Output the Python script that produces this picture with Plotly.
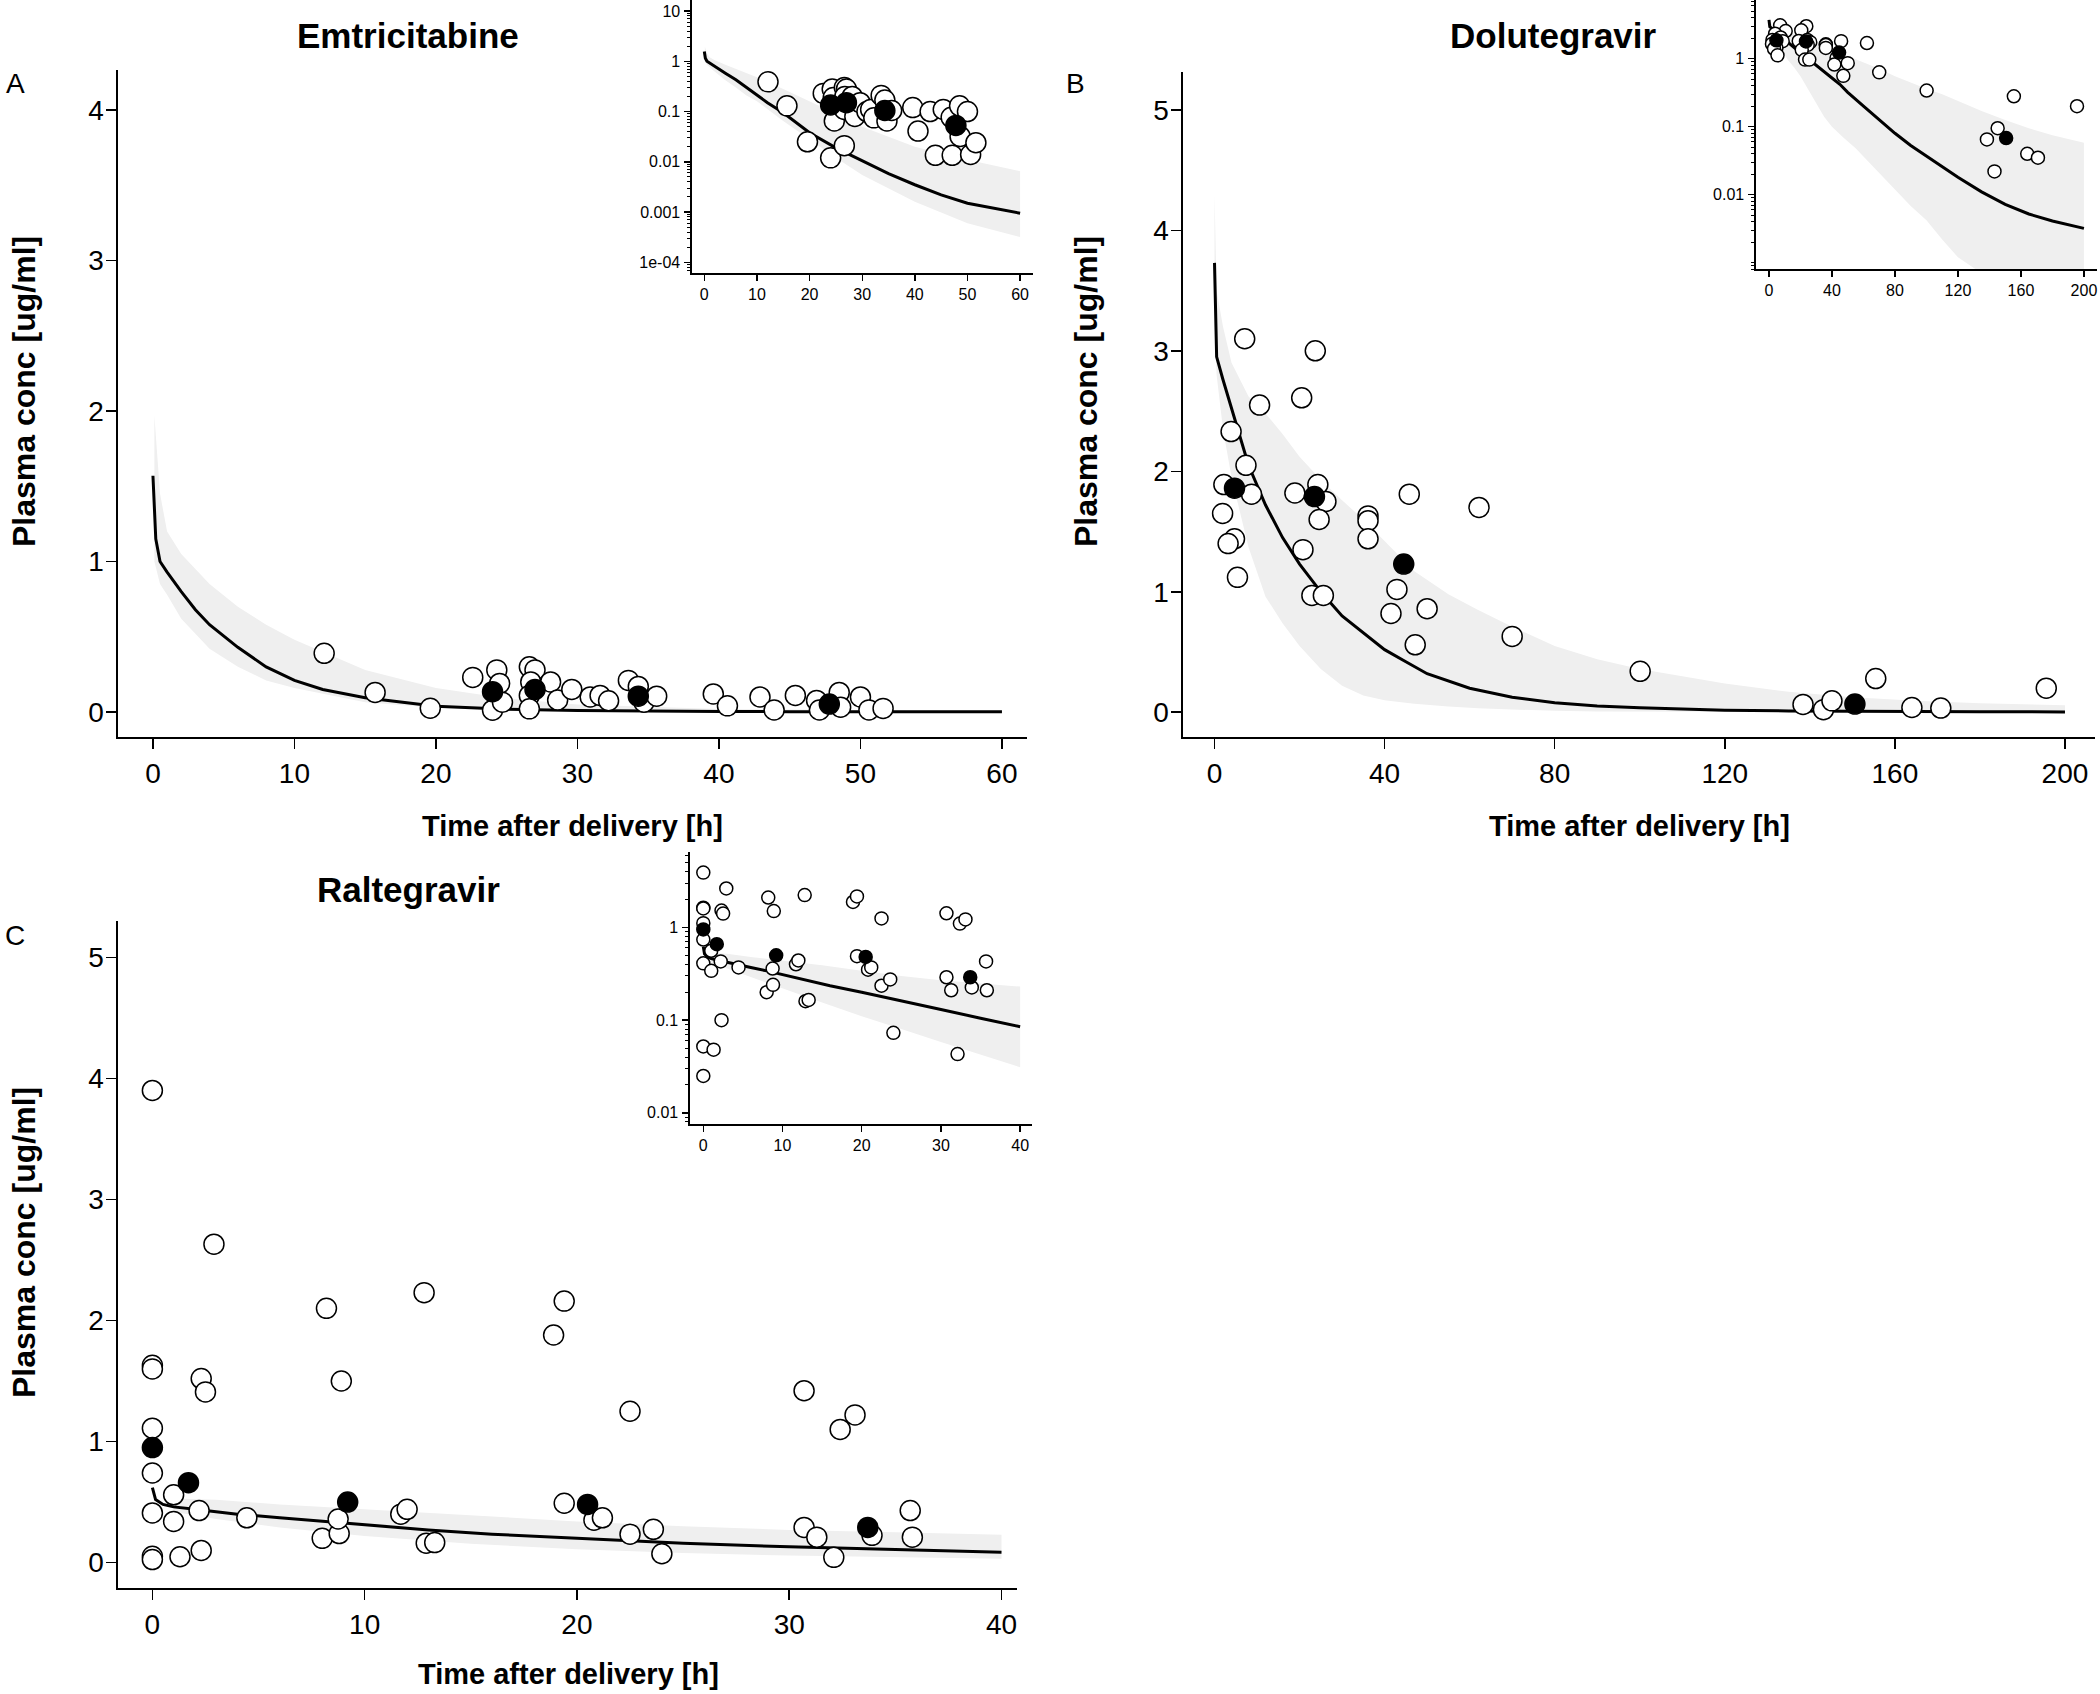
import plotly.graph_objects as go

W, H = 2100, 1694

# ---------------- Data ----------------
# Emtricitabine
emt_open_t = [12.1, 15.7, 19.6, 22.6, 24.3, 24.5, 24.0, 24.7, 26.6, 27.0, 26.7, 26.6, 26.6, 28.1, 28.6,
              29.6, 30.9, 31.6, 32.2, 33.6, 34.3, 34.7, 35.6, 39.6, 40.6, 42.9, 43.9, 45.4, 46.9, 47.1,
              48.5, 48.6, 50.0, 50.6, 51.6]
emt_open_c = [0.39, 0.13, 0.025, 0.23, 0.28, 0.19, 0.012, 0.065, 0.30, 0.28, 0.20, 0.11, 0.021, 0.20, 0.08,
              0.15, 0.10, 0.11, 0.075, 0.21, 0.17, 0.065, 0.105, 0.12, 0.041, 0.10, 0.0135, 0.11, 0.077, 0.0135,
              0.13, 0.032, 0.10, 0.014, 0.024]
emt_fill_t = [24.0, 27.0, 34.3, 47.8]
emt_fill_c = [0.135, 0.15, 0.105, 0.053]
emt_curve_t = [0, 0.2, 0.5, 1, 2, 3, 4, 6, 8, 10, 12, 15, 20, 25, 30, 35, 40, 45, 50, 55, 60]
emt_curve_c = [1.57, 1.15, 1.0, 0.93, 0.80, 0.68, 0.58, 0.43, 0.30, 0.21, 0.15, 0.095, 0.038, 0.019, 0.0105,
               0.0058, 0.0035, 0.0022, 0.0015, 0.0012, 0.00095]
emt_band_t = [0.1, 0.5, 1, 2, 4, 6, 8, 10, 15, 20, 25, 30, 40, 50, 60]
emt_band_hi = [1.97, 1.45, 1.2, 1.05, 0.85, 0.7, 0.58, 0.48, 0.28, 0.16, 0.09, 0.05, 0.02, 0.011, 0.0065]
emt_band_lo = [1.0, 0.85, 0.78, 0.62, 0.42, 0.30, 0.21, 0.16, 0.065, 0.028, 0.012, 0.0055, 0.0016, 0.0006, 0.00032]

# Dolutegravir
dtg_open_t = [7.1, 23.7, 10.6, 20.5, 3.9, 7.4, 2.2, 8.7, 1.9, 4.7, 3.2, 5.4, 18.9, 24.3, 26.2, 24.6, 20.8,
              22.9, 25.6, 36.1, 36.1, 36.1, 45.8, 42.9, 41.5, 50.0, 47.2, 62.2, 70.0, 100.1, 138.4, 143.2,
              145.2, 155.5, 164.0, 170.8, 195.6]
dtg_open_c = [3.10, 3.00, 2.55, 2.61, 2.33, 2.05, 1.89, 1.81, 1.65, 1.44, 1.40, 1.12, 1.82, 1.89, 1.75, 1.60, 1.35,
              0.97, 0.97, 1.63, 1.59, 1.44, 1.81, 1.02, 0.82, 0.86, 0.56, 1.70, 0.63, 0.34, 0.065, 0.022,
              0.095, 0.28, 0.04, 0.035, 0.20]
dtg_fill_t = [4.7, 23.5, 44.5, 150.6]
dtg_fill_c = [1.86, 1.79, 1.23, 0.068]
dtg_curve_t = [0, 0.5, 2, 5, 8, 12, 16, 20, 25, 30, 35, 40, 45, 50, 60, 70, 80, 90, 100, 110, 120, 135, 150,
               165, 180, 200]
dtg_curve_c = [3.73, 2.95, 2.76, 2.4, 2.05, 1.72, 1.45, 1.23, 1.0, 0.8, 0.66, 0.52, 0.42, 0.32, 0.2, 0.125, 0.08,
               0.053, 0.037, 0.026, 0.018, 0.011, 0.0072, 0.0052, 0.0041, 0.0032]
dtg_band_t = [0, 0.5, 2, 4, 8, 12, 16, 20, 25, 30, 35, 40, 47, 55, 62, 70, 80, 90, 100, 110, 120, 135, 150,
              165, 180, 200]
dtg_band_hi = [4.3, 3.5, 3.2, 2.9, 2.62, 2.48, 2.31, 2.12, 1.93, 1.76, 1.6, 1.42, 1.17, 0.98, 0.85, 0.71, 0.55,
               0.44, 0.36, 0.3, 0.24, 0.17, 0.125, 0.095, 0.075, 0.058]
dtg_band_lo = [3.2, 2.8, 2.35, 1.95, 1.37, 0.96, 0.74, 0.55, 0.36, 0.22, 0.14, 0.1, 0.07, 0.048, 0.033, 0.021,
               0.012, 0.0068, 0.0042, 0.0022, 0.0012, 0.0007, 0.0005, 0.0004, 0.0003, 0.00025]

# Raltegravir
ral_open_t = [0, 0, 0, 0, 0, 0, 0, 0, 1.0, 1.0, 1.3, 2.3, 2.5, 2.2, 2.3, 2.9, 4.45, 8.2, 8.9, 8.0, 8.8, 8.75,
              11.7, 12.0, 12.8, 12.9, 13.3, 18.9, 19.4, 19.4, 20.8, 21.2, 22.5, 22.5, 23.6, 24.0, 30.7, 30.7,
              31.3, 32.1, 32.4, 33.1, 33.9, 35.7, 35.8]
ral_open_c = [3.90, 1.63, 1.60, 1.11, 0.74, 0.41, 0.052, 0.025, 0.56, 0.34, 0.048, 1.52, 1.41, 0.43, 0.10, 2.63,
              0.37, 2.10, 1.50, 0.20, 0.24, 0.36, 0.40, 0.44, 2.23, 0.16, 0.165, 1.88, 2.16, 0.49, 0.35, 0.37,
              1.25, 0.235, 0.275, 0.073, 1.42, 0.29, 0.21, 0.043, 1.10, 1.22, 0.225, 0.43, 0.21]
ral_fill_t = [0, 1.7, 9.2, 20.5, 33.7]
ral_fill_c = [0.95, 0.66, 0.50, 0.48, 0.29]
ral_curve_t = [0, 0.15, 0.5, 1, 2, 4, 6, 8, 10, 13, 16, 20, 25, 30, 35, 40]
ral_curve_c = [0.62, 0.52, 0.48, 0.46, 0.44, 0.40, 0.37, 0.34, 0.31, 0.27, 0.235, 0.20, 0.16, 0.13, 0.105, 0.085]
ral_band_t = [1, 3, 6, 10, 15, 20, 25, 30, 35, 40]
ral_band_hi = [0.53, 0.52, 0.48, 0.44, 0.39, 0.34, 0.30, 0.27, 0.25, 0.23]
ral_band_lo = [0.42, 0.36, 0.29, 0.22, 0.155, 0.11, 0.08, 0.058, 0.042, 0.031]

titles = ["Emtricitabine", "Dolutegravir", "Raltegravir"]
panel_letters = ["A", "B", "C"]
x_title = "Time after delivery [h]"
y_title = "Plasma conc [ug/ml]"

# ---------------- Styling ----------------
FONT = "Liberation Sans, Arial, sans-serif"
BAND = "#EFEFEF"

fig = go.Figure()


def px_dom_x(a, b):
    return [a / W, b / W]


def px_dom_y(top, bottom):
    return [1 - bottom / H, 1 - top / H]


def add_panel(xa, ya, bt, bhi, blo, ct, cc, ot, oc, ft, fc, msize, lw=3):
    fig.add_trace(go.Scatter(x=list(bt) + list(bt)[::-1], y=list(bhi) + list(blo)[::-1],
                             fill="toself", fillcolor=BAND, line=dict(width=0), mode="lines",
                             hoverinfo="skip", showlegend=False, xaxis=xa, yaxis=ya))
    fig.add_trace(go.Scatter(x=ct, y=cc, mode="lines", line=dict(color="black", width=lw),
                             showlegend=False, xaxis=xa, yaxis=ya))
    fig.add_trace(go.Scatter(x=ot, y=oc, mode="markers",
                             marker=dict(size=msize, color="white", line=dict(color="black", width=1.5)),
                             showlegend=False, xaxis=xa, yaxis=ya))
    fig.add_trace(go.Scatter(x=ft, y=fc, mode="markers",
                             marker=dict(size=msize, color="black", line=dict(color="black", width=1.5)),
                             showlegend=False, xaxis=xa, yaxis=ya))


# A main / inset
add_panel("x", "y", emt_band_t, emt_band_hi, emt_band_lo, emt_curve_t, emt_curve_c,
          emt_open_t, emt_open_c, emt_fill_t, emt_fill_c, 20)
add_panel("x2", "y2", emt_band_t, emt_band_hi, emt_band_lo, emt_curve_t, emt_curve_c,
          emt_open_t, emt_open_c, emt_fill_t, emt_fill_c, 20)
# B main / inset
add_panel("x3", "y3", dtg_band_t, dtg_band_hi, dtg_band_lo, dtg_curve_t, dtg_curve_c,
          dtg_open_t, dtg_open_c, dtg_fill_t, dtg_fill_c, 20)
add_panel("x4", "y4", dtg_band_t, dtg_band_hi, dtg_band_lo, dtg_curve_t, dtg_curve_c,
          dtg_open_t, dtg_open_c, dtg_fill_t, dtg_fill_c, 13)
# C main / inset
add_panel("x5", "y5", ral_band_t, ral_band_hi, ral_band_lo, ral_curve_t, ral_curve_c,
          ral_open_t, ral_open_c, ral_fill_t, ral_fill_c, 20)
add_panel("x6", "y6", ral_band_t, ral_band_hi, ral_band_lo, ral_curve_t, ral_curve_c,
          ral_open_t, ral_open_c, ral_fill_t, ral_fill_c, 13)


def main_axis(dom, rng, tickvals, standoff, anchor):
    return dict(domain=dom, range=rng, tickmode="array", tickvals=tickvals, anchor=anchor,
                showline=True, linecolor="black", linewidth=1.6, mirror=False, automargin=False,
                ticks="outside", ticklen=10, tickwidth=1.6, tickcolor="black",
                showgrid=False, zeroline=False, tickfont=dict(family=FONT, size=28, color="black"),
                ticklabelstandoff=standoff, fixedrange=True)


def inset_x(dom, rng, tickvals, anchor):
    return dict(domain=dom, range=rng, tickmode="array", tickvals=tickvals, anchor=anchor,
                showline=True, linecolor="black", linewidth=1.6, ticks="outside", ticklen=6,
                tickwidth=1.4, tickcolor="black", showgrid=False, zeroline=False, automargin=False,
                tickfont=dict(family=FONT, size=16, color="black"), ticklabelstandoff=0)


def inset_y(dom, rng, tickvals, ticktext, anchor):
    return dict(domain=dom, range=rng, type="log", tickmode="array", tickvals=tickvals,
                ticktext=ticktext, anchor=anchor, automargin=False,
                showline=True, linecolor="black", linewidth=1.6, ticks="outside", ticklen=6,
                tickwidth=1.4, tickcolor="black", showgrid=False, zeroline=False,
                tickfont=dict(family=FONT, size=16, color="black"), ticklabelstandoff=1,
                minor=dict(ticks="outside", ticklen=3, tickwidth=1, tickcolor="black",
                           dtick="D1", showgrid=False))


layout = dict(
    template="none",
    width=W, height=H, margin=dict(l=0, r=0, t=0, b=0, autoexpand=False),
    paper_bgcolor="white", plot_bgcolor="rgba(0,0,0,0)", showlegend=False,
    # A main
    xaxis=main_axis(px_dom_x(118, 1027), [-2.47, 61.77], [0, 10, 20, 30, 40, 50, 60], 1, "y"),
    yaxis=main_axis(px_dom_y(70, 737), [-0.166, 4.266], [0, 1, 2, 3, 4], -3, "x"),
    # A inset
    xaxis2=inset_x(px_dom_x(692, 1033), [-2.34, 62.45], [0, 10, 20, 30, 40, 50, 60], "y2"),
    yaxis2=inset_y(px_dom_y(0, 273.4), [-4.22, 1.22], [10, 1, 0.1, 0.01, 0.001, 0.0001],
                   ["10", "1", "0.1", "0.01", "0.001", "1e-04"], "x2"),
    # B main
    xaxis3=main_axis(px_dom_x(1183, 2095), [-7.41, 207.06], [0, 40, 80, 120, 160, 200], 1, "y3"),
    yaxis3=main_axis(px_dom_y(72, 737), [-0.205, 5.314], [0, 1, 2, 3, 4, 5], -3, "x3"),
    # B inset
    xaxis4=inset_x(px_dom_x(1756, 2097), [-8.25, 208.3], [0, 40, 80, 120, 160, 200], "y4"),
    yaxis4=inset_y(px_dom_y(0, 269.3), [-3.097, 0.863], [1, 0.1, 0.01], ["1", "0.1", "0.01"], "x4"),
    # C main
    xaxis5=main_axis(px_dom_x(118, 1017), [-1.62, 40.73], [0, 10, 20, 30, 40], 1, "y5"),
    yaxis5=main_axis(px_dom_y(921, 1588), [-0.21, 5.30], [0, 1, 2, 3, 4, 5], -3, "x5"),
    # C inset
    xaxis6=inset_x(px_dom_x(690, 1032), [-1.68, 41.5], [0, 10, 20, 30, 40], "y6"),
    yaxis6=inset_y(px_dom_y(852, 1124), [-2.12, 0.813], [1, 0.1, 0.01], ["1", "0.1", "0.01"], "x6"),
)
fig.update_layout(**layout)


def ann(text, px, py, size, bold=False, angle=0):
    fig.add_annotation(text=f"<b>{text}</b>" if bold else text, x=px / W, y=1 - py / H,
                       xref="paper", yref="paper", showarrow=False, xanchor="center", yanchor="middle",
                       textangle=angle, font=dict(family=FONT, size=size, color="black"))


# Titles
ann(titles[0], 408, 36, 35, bold=True)
ann(titles[1], 1553, 36, 35, bold=True)
ann(titles[2], 408, 890, 35, bold=True)
# Panel letters
ann(panel_letters[0], 15, 83, 28)
ann(panel_letters[1], 1075, 83, 28)
ann(panel_letters[2], 15, 935, 28)
# X titles
ann(x_title, 572, 826, 29, bold=True)
ann(x_title, 1639, 826, 29, bold=True)
ann(x_title, 568, 1674, 29, bold=True)
# Y titles
ann(y_title, 24, 392, 32, bold=True, angle=-90)
ann(y_title, 1086, 392, 32, bold=True, angle=-90)
ann(y_title, 24, 1243, 32, bold=True, angle=-90)

fig.write_html("out.html", config={"displayModeBar": False, "staticPlot": True},
               post_script="document.body.style.margin='0px';document.body.style.overflow='hidden';")
